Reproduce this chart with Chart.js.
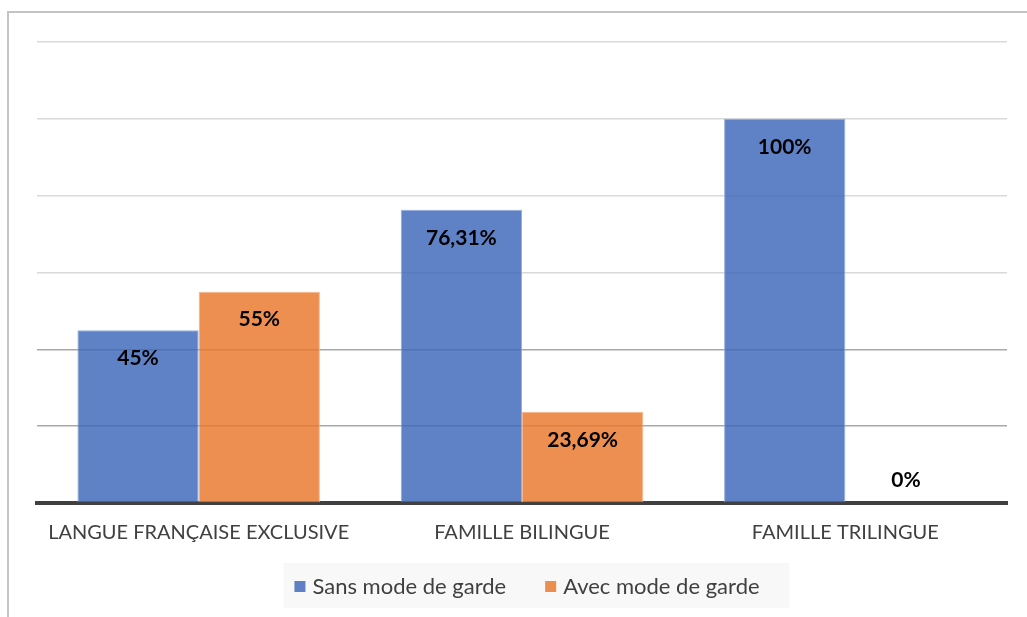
<!DOCTYPE html>
<html>
<head>
<meta charset="utf-8">
<script src="https://cdn.jsdelivr.net/npm/chart.js@4/dist/chart.umd.min.js"></script>
<style>
html,body{margin:0;padding:0;background:#fff;}
#wrap{width:1027px;height:617px;position:relative;}
</style>
</head>
<body>
<div id="wrap"><canvas id="c" width="1027" height="617"></canvas></div>
<script>
const categories = ["LANGUE FRANÇAISE EXCLUSIVE", "FAMILLE BILINGUE", "FAMILLE TRILINGUE"];
const seriesNames = ["Sans mode de garde", "Avec mode de garde"];
const sansValues = [45, 76.31, 100];
const avecValues = [55, 23.69, 0];
const sansLabels = ["45%", "76,31%", "100%"];
const avecLabels = ["55%", "23,69%", "0%"];
const yMax = 120;
const yStep = 20;

const FONT = "Lato, 'Noto Sans', sans-serif";

const framePlugin = {
  id: 'frame',
  beforeDraw(chart) {
    const ctx = chart.ctx;
    ctx.save();
    ctx.strokeStyle = '#c4c4c4';
    ctx.lineWidth = 2;
    ctx.beginPath();
    ctx.moveTo(8, chart.height);
    ctx.lineTo(8, 12);
    ctx.lineTo(chart.width, 12);
    ctx.stroke();
    ctx.restore();
  },
  afterDraw(chart) {
    // custom legend below the axis
    const ctx = chart.ctx;
    const ca = chart.chartArea;
    ctx.save();
    ctx.font = "22px " + FONT;
    const box = 11, gapBT = 7, gapItems = 39;
    const items = chart.data.datasets.map(ds => ({ text: ds.label, color: ds.backgroundColor, w: ctx.measureText(ds.label).width }));
    let total = 0;
    items.forEach((it, i) => { total += box + gapBT + it.w + (i < items.length - 1 ? gapItems : 0); });
    const cx = (ca.left + ca.right) / 2 + 5;
    const left = cx - total / 2;
    const top = chart.height - 54;
    const h = 45;
    ctx.fillStyle = '#f8f8f8';
    ctx.fillRect(left - 11, top, total + 41, h);
    const cy = top + h / 2;
    let x = left;
    ctx.textBaseline = 'middle';
    ctx.textAlign = 'left';
    items.forEach(it => {
      ctx.fillStyle = it.color;
      ctx.fillRect(x, cy - box / 2 + 1, box, box);
      x += box + gapBT;
      ctx.fillStyle = '#404040';
      ctx.fillText(it.text, x, cy + 1);
      x += it.w + gapItems;
    });
    ctx.restore();
  }
};

const labelPlugin = {
  id: 'vlabels',
  afterDatasetsDraw(chart) {
    const ctx = chart.ctx;
    ctx.save();
    ctx.font = "bold 21px " + FONT;
    ctx.fillStyle = '#000';
    ctx.textAlign = 'center';
    ctx.textBaseline = 'middle';
    const labelsets = [sansLabels, avecLabels];
    chart.data.datasets.forEach((ds, di) => {
      const meta = chart.getDatasetMeta(di);
      meta.data.forEach((bar, i) => {
        const v = ds.data[i];
        const y = v > 0 ? bar.y + 28 : bar.y - 23;
        ctx.fillText(labelsets[di][i], bar.x, y);
      });
    });
    ctx.restore();
  }
};

new Chart(document.getElementById('c'), {
  type: 'bar',
  data: {
    labels: categories,
    datasets: [
      {
        label: seriesNames[0],
        data: sansValues,
        backgroundColor: 'rgba(62,104,186,0.83)',
        borderColor: 'rgba(140,165,215,0.9)',
        borderWidth: 1
      },
      {
        label: seriesNames[1],
        data: avecValues,
        backgroundColor: 'rgba(232,120,44,0.83)',
        borderColor: 'rgba(245,175,130,0.9)',
        borderWidth: 1
      }
    ]
  },
  options: {
    responsive: false,
    animation: false,
    devicePixelRatio: 1,
    layout: { padding: { left: 37, right: 20, top: 42, bottom: 54 } },
    datasets: { bar: { categoryPercentage: 0.75, barPercentage: 1.0 } },
    plugins: {
      tooltip: { enabled: false },
      legend: { display: false }
    },
    scales: {
      x: {
        grid: { display: false },
        border: { display: true, color: '#404040', width: 4 },
        ticks: {
          color: '#404040',
          padding: 10,
          maxRotation: 0,
          autoSkip: false,
          font: { family: FONT, size: 20 }
        },
        afterFit(s) { s.height = 60; }
      },
      y: {
        min: 0,
        max: yMax,
        ticks: { display: false, stepSize: yStep },
        border: { display: false },
        grid: {
          color(ctx) {
            const v = ctx.tick ? ctx.tick.value : 0;
            if (v === 0) return 'rgba(0,0,0,0)';
            return v <= 40 ? '#a8a8a8' : '#d9d9d9';
          },
          lineWidth: 1.5,
          drawTicks: false
        },
        afterFit(s) { s.width = 0; }
      }
    }
  },
  plugins: [framePlugin, labelPlugin]
});
</script>
</body>
</html>
